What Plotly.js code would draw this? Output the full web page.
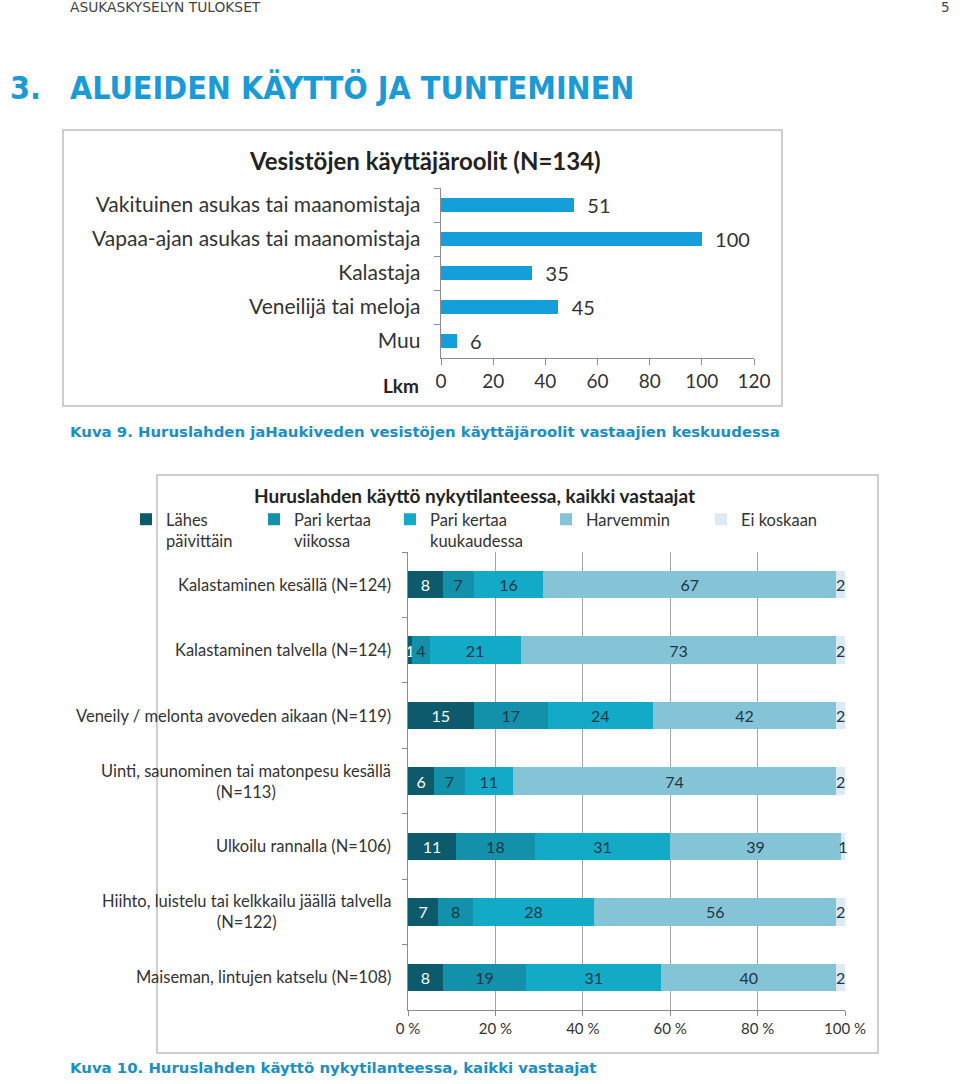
<!DOCTYPE html>
<html><head><meta charset="utf-8">
<script src="https://cdn.plot.ly/plotly-3.0.1.min.js"></script>
<style>html,body{margin:0;padding:0;background:#fff}#chart{width:960px;height:1084px}</style>
</head><body><div id="chart"></div>
<script>
// ---- Chart 1 data ----
const roles = ['Vakituinen asukas tai maanomistaja','Vapaa-ajan asukas tai maanomistaja','Kalastaja','Veneilijä tai meloja','Muu'];
const roleCounts = [51,100,35,45,6];
const countTicks = [0,20,40,60,80,100,120];

// ---- Chart 2 data ----
const activities = ['Kalastaminen kesällä (N=124)','Kalastaminen talvella (N=124)','Veneily / melonta avoveden aikaan (N=119)','Uinti, saunominen tai matonpesu kesällä<br>(N=113)','Ulkoilu rannalla (N=106)','Hiihto, luistelu tai kelkkailu jäällä talvella<br>(N=122)','Maiseman, lintujen katselu (N=108)'];
const frequencies = ['Lähes<br>päivittäin','Pari kertaa<br>viikossa','Pari kertaa<br>kuukaudessa','Harvemmin','Ei koskaan'];
const daily   = [8,1,15,6,11,7,8];
const weekly  = [7,4,17,7,18,8,19];
const monthly = [16,21,24,11,31,28,31];
const rarely  = [67,73,42,74,39,56,40];
const never   = [2,2,2,2,1,2,2];
const percentTicks = [0,20,40,60,80,100];
const percentLabels = ['0 %','20 %','40 %','60 %','80 %','100 %'];

const series = [daily, weekly, monthly, rarely, never];
const colors = ['#0c5a6c','#1491aa','#13aac7','#85c3d7','#dde9f3'];
const textColors = ['#ffffff','#1e3646','#1e3646','#1e3646','#1e3646'];
const legendX = [126, 254, 390, 546, 701];
const rowSums = activities.map((_, i) => series.reduce((s, arr) => s + arr[i], 0));

const F = 'Lato, "Open Sans", sans-serif';
const H = '"DejaVu Sans Condensed", "DejaVu Sans", sans-serif';
const V = '"DejaVu Sans", sans-serif';
const W = 960, HT = 1084;
const px = v => v / W, py = v => 1 - v / HT;

const traces = [];
traces.push({
  type: 'bar', orientation: 'h', x: roleCounts, y: roles, xaxis: 'x', yaxis: 'y',
  marker: {color: '#149fda'}, showlegend: false,
  text: roleCounts.map(v => '\u00a0\u00a0' + v), textposition: 'outside', cliponaxis: false, constraintext: 'none',
  textfont: {family: F, size: 20, color: '#333333'}, hoverinfo: 'skip'
});
series.forEach((arr, k) => {
  traces.push({
    type: 'bar', orientation: 'h', name: frequencies[k], legend: k === 0 ? 'legend' : 'legend' + (k + 1),
    x: arr.map((v, i) => v / rowSums[i] * 100), y: activities, xaxis: 'x2', yaxis: 'y2',
    marker: {color: colors[k]},
    text: arr.map(String), textposition: 'inside', insidetextanchor: 'middle', constraintext: 'none',
    textfont: {family: F, size: 16, color: textColors[k]}, cliponaxis: false, hoverinfo: 'skip'
  });
});

const annotations = [
  {text: 'ASUKASKYSELYN TULOKSET', x: px(68), y: py(7), xanchor: 'left', yanchor: 'middle', font: {family: V, size: 13.8, color: '#444'}},
  {text: '5', x: px(952), y: py(7), xanchor: 'right', yanchor: 'middle', font: {family: V, size: 13.5, color: '#444'}},
  {text: '<b>3.</b>', x: px(8), y: py(88), xanchor: 'left', yanchor: 'middle', font: {family: H, size: 32, color: '#1a9bd7'}},
  {text: '<b>ALUEIDEN KÄYTTÖ JA TUNTEMINEN</b>', x: px(68), y: py(88), xanchor: 'left', yanchor: 'middle', font: {family: H, size: 32, color: '#1a9bd7'}},
  {text: '<b>Vesistöjen käyttäjäroolit (N=134)</b>', x: px(425), y: py(160), xanchor: 'center', yanchor: 'middle', font: {family: F, size: 24, color: '#222'}},
  {text: '<b>Lkm</b>', x: px(421), y: py(386), xanchor: 'right', yanchor: 'middle', font: {family: F, size: 19, color: '#222'}},
  {text: '<b>Kuva 9. Huruslahden jaHaukiveden vesistöjen käyttäjäroolit vastaajien keskuudessa</b>', x: px(68), y: py(432), xanchor: 'left', yanchor: 'middle', font: {family: V, size: 14.9, color: '#1a8fc4'}},
  {text: '<b>Huruslahden käyttö nykytilanteessa, kaikki vastaajat</b>', x: px(474), y: py(495), xanchor: 'center', yanchor: 'middle', font: {family: F, size: 19, color: '#222'}},
  {text: '<b>Kuva 10. Huruslahden käyttö nykytilanteessa, kaikki vastaajat</b>', x: px(68), y: py(1068), xanchor: 'left', yanchor: 'middle', font: {family: V, size: 14.9, color: '#1a8fc4'}}
].map(a => Object.assign({xref: 'paper', yref: 'paper', showarrow: false}, a));

activities.forEach(a => annotations.push({
  text: a, xref: 'paper', yref: 'y2', x: px(393), y: a, xanchor: 'right', yanchor: 'middle',
  align: 'center', showarrow: false, font: {family: F, size: 16.5, color: '#333'}
}));

const shapes = [
  {type: 'rect', xref: 'paper', yref: 'paper', x0: px(63), x1: px(782), y0: py(130), y1: py(406), line: {color: '#bfbfbf', width: 1.5}},
  {type: 'rect', xref: 'paper', yref: 'paper', x0: px(157), x1: px(878), y0: py(475), y1: py(1053), line: {color: '#bfbfbf', width: 1.5}}
];

const layout = {
  width: W, height: HT, margin: {l: 0, r: 0, t: 0, b: 0},
  paper_bgcolor: '#fff', plot_bgcolor: 'rgba(0,0,0,0)',
  barmode: 'stack', bargap: 0.58,
  font: {family: F, color: '#333'},
  xaxis: {domain: [px(441), px(754)], anchor: 'y', range: [0, 120], tickvals: countTicks,
    showgrid: false, zeroline: false, showline: true, linecolor: '#8c8c8c', linewidth: 1.3,
    ticks: 'outside', ticklen: 6, tickcolor: '#8c8c8c', tickfont: {family: F, size: 19, color: '#333'}, fixedrange: true},
  yaxis: {domain: [py(358), py(188)], anchor: 'x', type: 'category', autorange: 'reversed',
    showgrid: false, zeroline: false, showline: true, linecolor: '#8c8c8c', linewidth: 1.3,
    ticks: 'outside', ticklen: 6, tickcolor: '#8c8c8c', tickson: 'boundaries', ticklabelstandoff: 15,
    tickfont: {family: F, size: 21, color: '#333'}, fixedrange: true},
  xaxis2: {domain: [px(408), px(845)], anchor: 'y2', range: [0, 100], tickvals: percentTicks, ticktext: percentLabels,
    showgrid: true, gridcolor: '#a6a6a6', gridwidth: 1, zeroline: false, showline: true, linecolor: '#8c8c8c', linewidth: 1.3,
    ticks: 'outside', ticklen: 5, tickcolor: '#8c8c8c', tickfont: {family: F, size: 15, color: '#333'}, fixedrange: true},
  yaxis2: {domain: [py(1010), py(552)], anchor: 'x2', type: 'category', autorange: 'reversed',
    showgrid: false, zeroline: false, showline: true, linecolor: '#8c8c8c', linewidth: 1.3,
    ticks: 'outside', ticklen: 5, tickcolor: '#8c8c8c', tickson: 'boundaries', showticklabels: false, fixedrange: true},
  showlegend: true,
  annotations: annotations, shapes: shapes
};
legendX.forEach((lx, k) => {
  layout[k === 0 ? 'legend' : 'legend' + (k + 1)] = {
    orientation: 'v', x: px(lx), y: py(502), xanchor: 'left', yanchor: 'top', valign: 'top',
    itemclick: false, itemdoubleclick: false,
    font: {family: F, size: 16.5, color: '#333'}, bgcolor: 'rgba(0,0,0,0)'
  };
});

Plotly.newPlot('chart', traces, layout, {displayModeBar: false, staticPlot: true});
</script>
</body></html>
